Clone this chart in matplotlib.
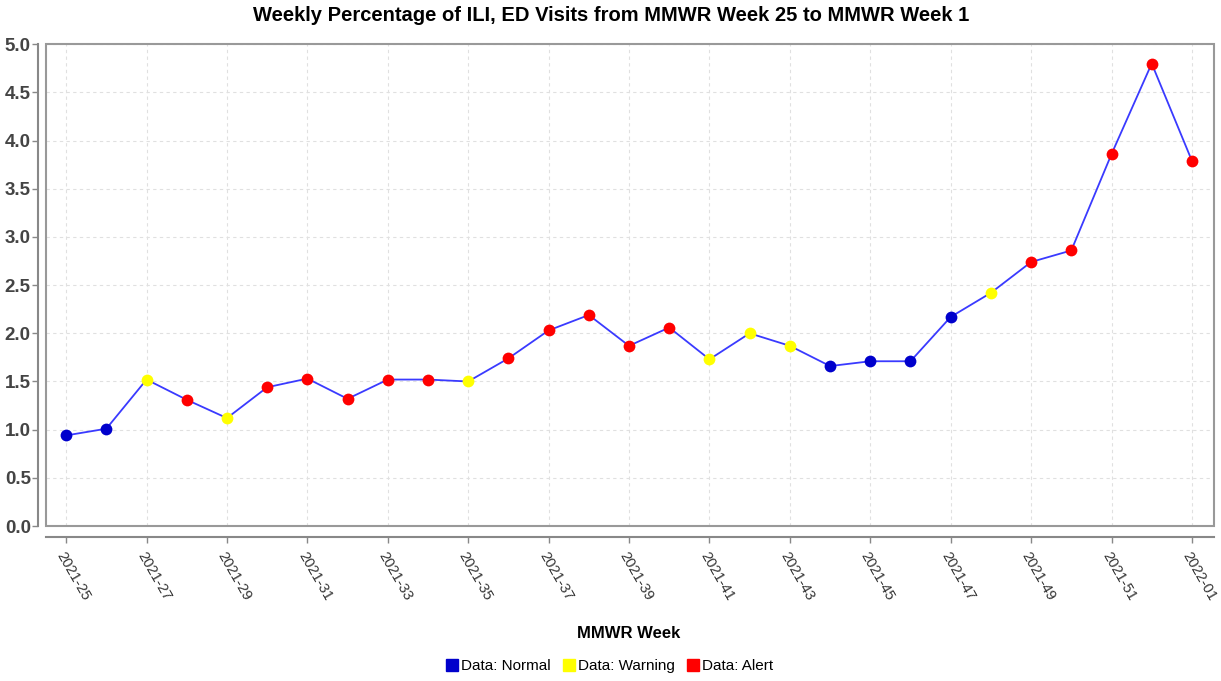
import numpy as np
import matplotlib.pyplot as plt
from matplotlib.patches import Rectangle
from matplotlib.lines import Line2D

# weeks and values
weeks = ["2021-%d" % w for w in range(25, 53)] + ["2022-01"]
pct = [0.94, 1.01, 1.52, 1.31, 1.12, 1.44, 1.53, 1.32, 1.52, 1.52,
       1.50, 1.74, 2.03, 2.19, 1.87, 2.06, 1.73, 2.00, 1.87, 1.66,
       1.71, 1.71, 2.17, 2.42, 2.74, 2.86, 3.86, 4.80, 3.79]
status = ["N", "N", "W", "A", "W", "A", "A", "A", "A", "A",
          "W", "A", "A", "A", "A", "A", "W", "W", "W", "N",
          "N", "N", "N", "W", "A", "A", "A", "A", "A"]

colors = {"N": "#0000cc", "W": "#ffff00", "A": "#ff0000"}
names = {"N": "Data: Normal", "W": "Data: Warning", "A": "Data: Alert"}

x = np.arange(len(weeks))

fig = plt.figure(figsize=(12.21, 6.81), dpi=100)
ax = fig.add_axes([0.0377, 0.2276, 0.9566, 0.7074])

ax.plot(x, pct, color="#3a3aff", lw=1.3, zorder=3)
for s in ["N", "W", "A"]:
    idx = [i for i in range(len(x)) if status[i] == s]
    ax.scatter(x[idx], np.array(pct)[idx], s=72, color=colors[s], zorder=4, linewidths=0)

ax.set_xlim(-0.5, 28.55)
ax.set_ylim(0, 5.0)

ax.grid(True, color="#e0e0e0", ls=(0, (3, 3)), lw=0.8)
ax.set_axisbelow(True)

# outline box and offset axis lines
for sp in ["top", "right"]:
    ax.spines[sp].set_visible(False)
ax.spines["left"].set_position(("outward", 6))
ax.spines["bottom"].set_position(("outward", 8))
for sp in ["left", "bottom"]:
    ax.spines[sp].set_color("#888888")
    ax.spines[sp].set_linewidth(1.5)
ax.add_patch(Rectangle((0, 0), 1, 1, transform=ax.transAxes, fill=False,
                       edgecolor="#999999", lw=1.5, zorder=5, clip_on=False))
ax.tick_params(axis="both", color="#888888", length=4, width=1)
ax.tick_params(axis="x", pad=5)
ax.tick_params(axis="y", pad=1)

ax.set_yticks(np.arange(0, 5.01, 0.5))
ax.set_yticklabels(["%.1f" % v for v in np.arange(0, 5.01, 0.5)])
ax.set_xticks(x[::2])
ax.set_xticklabels(weeks[::2])
for lab in ax.get_yticklabels():
    lab.set_fontsize(13.5)
    lab.set_fontweight("bold")
    lab.set_color("#444444")
    lab.set_family(["Liberation Sans Narrow", "Liberation Sans"])
for lab in ax.get_xticklabels():
    lab.set_rotation(-60)
    lab.set_rotation_mode("anchor")
    lab.set_ha("left")
    lab.set_va("top")
    lab.set_fontsize(10.5)
    lab.set_color("#333333")
    lab.set_family(["Liberation Sans", "DejaVu Sans"])

fig.text(0.5005, 0.977, "Weekly Percentage of ILI, ED Visits from MMWR Week 25 to MMWR Week 1",
         ha="center", va="center", fontsize=14.5, fontweight="bold",
         family=["Liberation Sans", "DejaVu Sans"])
fig.text(0.515, 0.07, "MMWR Week", ha="center", va="center", fontsize=12,
         fontweight="bold", family=["Liberation Sans Narrow", "Liberation Sans"])

handles = [Line2D([], [], marker="s", ls="", color=colors[s], markersize=9) for s in ["N", "W", "A"]]
fig.legend(handles, [names[s] for s in ["N", "W", "A"]], loc="center",
           bbox_to_anchor=(0.498, 0.022), ncol=3, frameon=False,
           handletextpad=0.0, columnspacing=0.6, handlelength=1.2,
           prop={"family": ["Liberation Sans Narrow", "Liberation Sans"], "size": 11})

fig.savefig("out.png", dpi=100)
